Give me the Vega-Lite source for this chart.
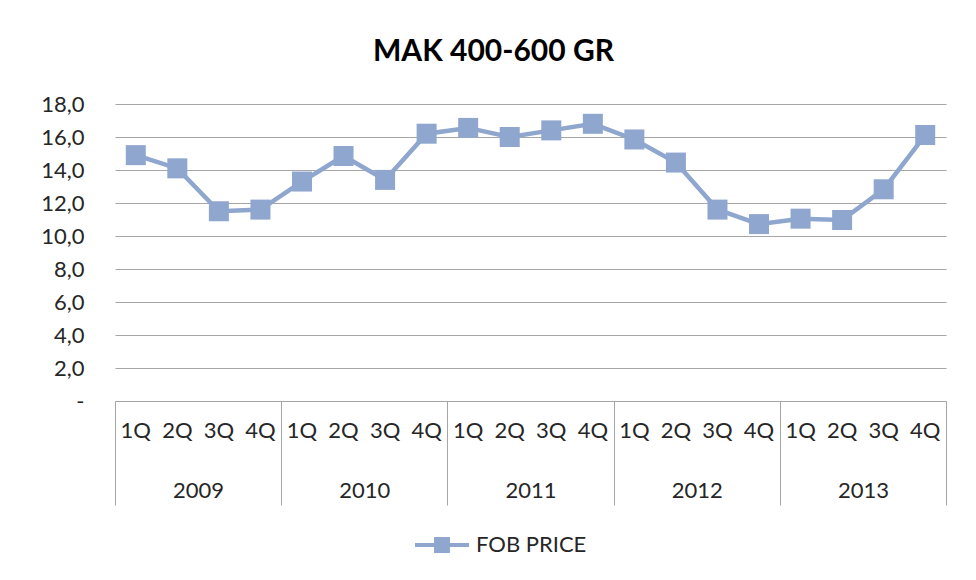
{
  "$schema": "https://vega.github.io/schema/vega-lite/v6.json",
  "autosize": "none",
  "width": 831,
  "height": 297,
  "padding": {"left": 115, "top": 104, "right": 30, "bottom": 179},
  "background": "white",
  "config": {
    "view": {"stroke": null},
    "font": "Lato",
    "axis": {"labelFont": "Lato", "labelColor": "#262626", "labelFontSize": 22, "gridColor": "#A6A6A6", "domainColor": "#A6A6A6", "tickColor": "#A6A6A6", "labelOverlap": false}
  },
  "title": {
    "text": "MAK 400-600 GR",
    "font": "Lato",
    "fontSize": 30,
    "fontWeight": "bold",
    "color": "#000000",
    "anchor": "middle",
    "frame": "group",
    "baseline": "alphabetic",
    "offset": 2,
    "dx": -37
  },
  "data": {
    "values": [
      {"period": "2009 1Q", "year": "2009", "price": 14.9, "series": "FOB PRICE"},
      {"period": "2009 2Q", "year": "2009", "price": 14.1, "series": "FOB PRICE"},
      {"period": "2009 3Q", "year": "2009", "price": 11.5, "series": "FOB PRICE"},
      {"period": "2009 4Q", "year": "2009", "price": 11.6, "series": "FOB PRICE"},
      {"period": "2010 1Q", "year": "2010", "price": 13.3, "series": "FOB PRICE"},
      {"period": "2010 2Q", "year": "2010", "price": 14.85, "series": "FOB PRICE"},
      {"period": "2010 3Q", "year": "2010", "price": 13.4, "series": "FOB PRICE"},
      {"period": "2010 4Q", "year": "2010", "price": 16.2, "series": "FOB PRICE"},
      {"period": "2011 1Q", "year": "2011", "price": 16.55, "series": "FOB PRICE"},
      {"period": "2011 2Q", "year": "2011", "price": 16.0, "series": "FOB PRICE"},
      {"period": "2011 3Q", "year": "2011", "price": 16.4, "series": "FOB PRICE"},
      {"period": "2011 4Q", "year": "2011", "price": 16.8, "series": "FOB PRICE"},
      {"period": "2012 1Q", "year": "2012", "price": 15.85, "series": "FOB PRICE"},
      {"period": "2012 2Q", "year": "2012", "price": 14.45, "series": "FOB PRICE"},
      {"period": "2012 3Q", "year": "2012", "price": 11.6, "series": "FOB PRICE"},
      {"period": "2012 4Q", "year": "2012", "price": 10.72, "series": "FOB PRICE"},
      {"period": "2013 1Q", "year": "2013", "price": 11.05, "series": "FOB PRICE"},
      {"period": "2013 2Q", "year": "2013", "price": 10.97, "series": "FOB PRICE"},
      {"period": "2013 3Q", "year": "2013", "price": 12.83, "series": "FOB PRICE"},
      {"period": "2013 4Q", "year": "2013", "price": 16.12, "series": "FOB PRICE"}
    ]
  },
  "encoding": {
    "y": {
      "field": "price",
      "type": "quantitative",
      "scale": {"domain": [0, 18], "nice": false, "zero": true},
      "axis": {
        "title": null,
        "values": [0, 2, 4, 6, 8, 10, 12, 14, 16, 18],
        "domain": false,
        "ticks": false,
        "grid": true,
        "labelPadding": 31,
        "labelExpr": "datum.value == 0 ? '-\u00a0\u00a0\u00a0' : replace(format(datum.value, '.1f'), '.', ',')"
      }
    }
  },
  "layer": [
    {
      "mark": {"type": "point", "opacity": 0},
      "encoding": {
        "x": {
          "field": "year",
          "type": "ordinal",
          "scale": {"type": "band", "paddingInner": 0, "paddingOuter": 0},
          "axis": {
            "orient": "bottom",
            "title": null,
            "domain": false,
            "ticks": true,
            "tickBand": "extent",
            "tickSize": 104,
            "tickWidth": 1,
            "labelAngle": 0,
            "labelBaseline": "middle",
            "labelPadding": -15,
            "grid": false
          }
        }
      }
    },
    {
      "encoding": {
        "x": {
          "field": "period",
          "type": "ordinal",
          "scale": {"type": "band", "paddingInner": 0, "paddingOuter": 0},
          "axis": {
            "orient": "bottom",
            "title": null,
            "domain": true,
            "ticks": false,
            "grid": false,
            "labelAngle": 0,
            "labelBaseline": "middle",
            "labelPadding": 29,
            "labelExpr": "split(datum.label, ' ')[1]"
          }
        },
        "color": {
          "field": "series",
          "type": "nominal",
          "scale": {"range": ["#8FA6CE"]},
          "legend": {
            "title": null,
            "orient": "none",
            "legendX": 298,
            "legendY": 412,
            "padding": 0,
            "symbolType": "M-1,0H1M-0.22,-0.22H0.22V0.22H-0.22Z",
            "symbolSize": 2916,
            "symbolStrokeWidth": 4,
            "symbolStrokeColor": "#8FA6CE",
            "symbolFillColor": "#8FA6CE",
            "labelFont": "Lato",
            "labelFontSize": 22,
            "labelColor": "#262626",
            "labelOffset": 5
          }
        }
      },
      "layer": [
        {"mark": {"type": "line", "strokeWidth": 4.5}},
        {"mark": {"type": "point", "shape": "square", "filled": true, "size": 400, "opacity": 1}}
      ]
    }
  ],
  "resolve": {"scale": {"x": "independent"}}
}
